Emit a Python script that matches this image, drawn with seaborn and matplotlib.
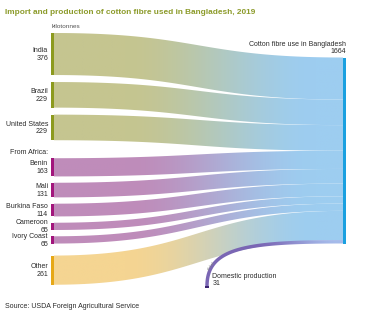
import numpy as np
import matplotlib
matplotlib.use("Agg")
import matplotlib.pyplot as plt
from matplotlib.path import Path
from matplotlib.patches import PathPatch, Rectangle
from matplotlib import font_manager
import matplotlib.colors as mcolors
import seaborn as sns

# ---------------- data ----------------
sources = ["India", "Brazil", "United States", "Benin", "Mali", "Burkina Faso",
           "Cameroon", "Ivory Coast", "Other"]
values = [376, 229, 229, 163, 131, 114, 65, 65, 261]
groups = ["main", "main", "main", "africa", "africa", "africa", "africa", "africa", "other"]
total_use = 1664
domestic = 31
target_label = "Cotton fibre use in Bangladesh"
domestic_label = "Domestic production"
title = "Import and production of cotton fibre used in Bangladesh, 2019"
unit = "kilotonnes"
source_note = "Source: USDA Foreign Agricultural Service"

# ---------------- style ----------------
sns.set_theme(style="white")
names = {f.name for f in font_manager.fontManager.ttflist}
narrow = "Liberation Sans Narrow" in names
fam = ["Liberation Sans Narrow", "DejaVu Sans"] if narrow else ["Liberation Sans", "DejaVu Sans"]
plt.rcParams["font.family"] = fam
fs_scale = 1.0 if narrow else 0.85
lab_fs = 5.9 * fs_scale

flow_col = {"main": "#c5c590", "africa": "#bf8cba", "other": "#f5d592"}
bar_col = {"main": "#8c9a1e", "africa": "#a2157c", "other": "#e6a817"}
blue_flow = "#9dcdf0"
blue_bar = "#1aa0e0"
text_col = "#2a2a2a"

W, H = 366, 323
fig = plt.figure(figsize=(W / 100, H / 100), dpi=100)
ax = fig.add_axes([0, 0, 1, 1])
ax.set_xlim(0, W)
ax.set_ylim(H, 0)
ax.axis("off")

# layout
xl, xr = 53.5, 343.0
bar_w_l, bar_w_r = 2.5, 3.0
right_top = 57.5
right_h = 186.0
k = right_h / total_use
gaps = {("main", "main"): 7.0, ("main", "africa"): 18.0, ("africa", "africa"): 6.3,
        ("africa", "other"): 12.0}

def bez(p0, p1, p2, p3, n=80):
    t = np.linspace(0, 1, n)[:, None]
    return ((1 - t) ** 3) * p0 + 3 * ((1 - t) ** 2) * t * p1 + 3 * (1 - t) * t ** 2 * p2 + t ** 3 * p3

def fill_gradient(verts, x0, x1, ymin, ymax, c0, c1, f0, f1):
    codes = [Path.MOVETO] + [Path.LINETO] * (len(verts) - 2) + [Path.CLOSEPOLY]
    patch = PathPatch(Path(verts, codes), facecolor="none", edgecolor="none")
    ax.add_patch(patch)
    xs = np.linspace(x0, x1, 300)
    t = np.clip((xs - f0) / (f1 - f0), 0, 1)
    t = t * t * (3 - 2 * t)
    a = np.array(mcolors.to_rgb(c0)); b = np.array(mcolors.to_rgb(c1))
    grad = (1 - t)[:, None] * a + t[:, None] * b
    im = ax.imshow(grad[None, :, :], extent=[x0, x1, ymax, ymin], aspect="auto",
                   interpolation="bilinear", zorder=1)
    im.set_clip_path(patch)

def gradient_flow(y0, y1, h, c0, c1, f0=125, f1=315):
    xm = (xl + xr) / 2
    top = bez(np.array([xl, y0]), np.array([xm, y0]), np.array([xm, y1]), np.array([xr, y1]))
    bot = bez(np.array([xr, y1 + h]), np.array([xm, y1 + h]), np.array([xm, y0 + h]), np.array([xl, y0 + h]))
    verts = np.vstack([top, bot, top[:1]])
    fill_gradient(verts, xl, xr, min(y0, y1) - 1, max(y0, y1) + h + 1, c0, c1, f0, f1)

# left nodes
y = 33.0
prev = None
ry = right_top
for name, v, g in zip(sources, values, groups):
    if prev is not None:
        y += gaps[(prev, g)]
    h = v * k
    gradient_flow(y, ry, h, flow_col[g], blue_flow)
    ax.add_patch(Rectangle((xl - bar_w_l, y), bar_w_l, h, color=bar_col[g], zorder=3, lw=0))
    ax.text(xl - 5.5, y + h / 2 + 0.5, f"{name}\n{v}", ha="right", va="center",
            multialignment="right", fontsize=lab_fs, color=text_col, linespacing=1.15)
    if g == "africa" and prev == "main":
        ax.text(xl - 5.5, y - 6.0, "From Africa:", ha="right", va="center",
                fontsize=lab_fs, color=text_col)
    y += h
    ry += h
    prev = g

# domestic production arc (ribbon)
hd = domestic * k
yc = ry + hd / 2
dx0, dy0 = 207.0, 286.0
pts = bez(np.array([dx0, dy0]), np.array([dx0, 248.0]), np.array([245.0, yc]), np.array([xr, yc]), 160)
d = np.gradient(pts, axis=0)
d /= np.linalg.norm(d, axis=1)[:, None]
nrm = np.stack([-d[:, 1], d[:, 0]], axis=1)
side_a = pts + nrm * hd / 2
side_b = pts - nrm * hd / 2
verts = np.vstack([side_a, side_b[::-1], side_a[:1]])
fill_gradient(verts, dx0 - hd, xr, yc - hd, dy0 + 1, "#7a66b4", "#a6bceb", 250, 340)
ax.add_patch(Rectangle((dx0 - hd / 2, dy0 - 0.3), hd, 2.0, color="#3b2470", zorder=3, lw=0))
ax.text(dx0 + 5.5, dy0 - 6.0, f"{domestic_label}\n{domestic}", ha="left", va="center",
        fontsize=lab_fs, color=text_col, linespacing=1.15)
ax.text(dx0 + 4.0, 266.0, "pbl.nl", rotation=52, ha="center", va="center",
        fontsize=3.6 * fs_scale, color="#888888")

# right node
ax.add_patch(Rectangle((xr, right_top), bar_w_r, right_h, color=blue_bar, zorder=3, lw=0))
ax.text(xr + bar_w_r, right_top - 9.5, f"{target_label}\n{total_use}", ha="right", va="center",
        multialignment="right", fontsize=lab_fs, color=text_col, linespacing=1.15)

# titles
ax.text(5, 12.5, title, ha="left", va="center", fontsize=7.0 * fs_scale,
        fontweight="bold", color="#8c9b2a")
ax.text(xl - 1.5, 27, unit, ha="left", va="center", fontsize=5.4 * fs_scale, color="#555555")
ax.text(5, 307, source_note, ha="left", va="center", fontsize=lab_fs, color=text_col)

ax.set_xlim(0, W)
ax.set_ylim(H, 0)
fig.savefig("out.png", dpi=100, facecolor="white")
